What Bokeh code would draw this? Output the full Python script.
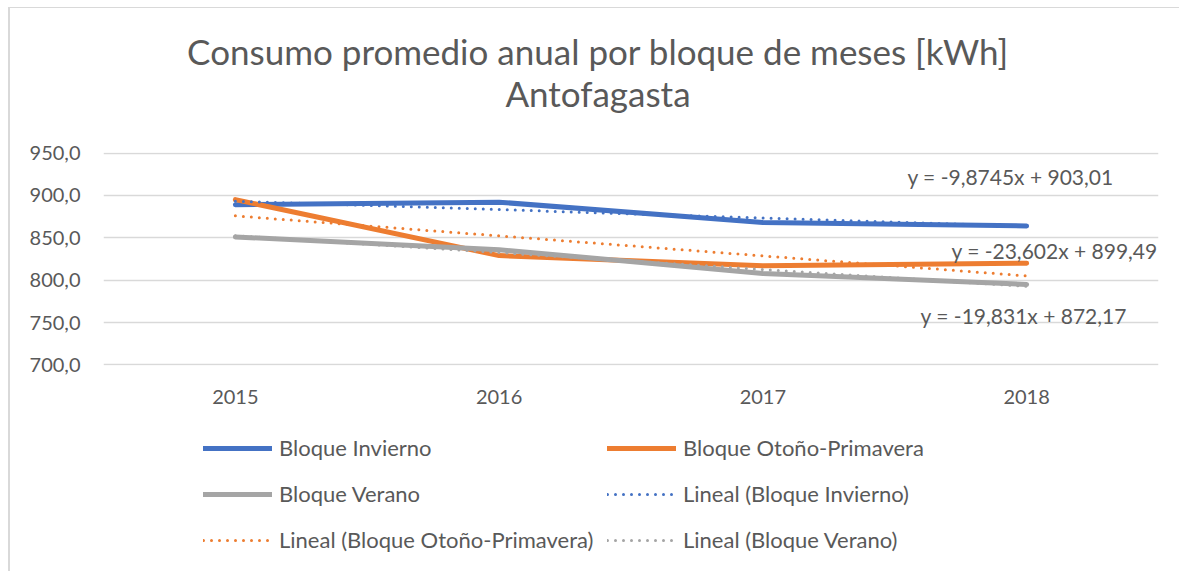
from bokeh.plotting import figure
from bokeh.layouts import column
from bokeh.models import FactorRange, Range1d, FixedTicker, Label, Legend, LegendItem
from bokeh.embed import file_html
from bokeh.resources import INLINE

# ---- data ----
years = ["2015", "2016", "2017", "2018"]
invierno = [889, 892, 868, 864]
otono_primavera = [895, 829, 817, 820]
verano = [851, 836, 808, 795]
trend_slope = [-9.8745, -23.602, -19.831]
trend_intercept = [903.01, 899.49, 872.17]
trend_labels = ["y = -9,8745x + 903,01", "y = -23,602x + 899,49", "y = -19,831x + 872,17"]
series_names = ["Bloque Invierno", "Bloque Otoño-Primavera", "Bloque Verano"]
y_ticks = [700, 750, 800, 850, 900, 950]
y_tick_labels = ["700,0", "750,0", "800,0", "850,0", "900,0", "950,0"]
title_lines = ["Consumo promedio anual por bloque de meses [kWh]", "Antofagasta"]

colors = ["#4472C4", "#ED7D31", "#A5A5A5"]
TXT = "#595959"
FONT = "Lato"
W = 1169
FW = 1055  # frame width shared by all stacked figures


def blank(h):
    f = figure(width=W, height=h, output_backend="svg", toolbar_location=None,
               x_range=Range1d(0, FW), y_range=Range1d(0, h),
               min_border_left=93, min_border_right=21,
               min_border_top=0, min_border_bottom=0)
    f.axis.visible = False
    f.grid.visible = False
    f.outline_line_color = None
    f.background_fill_color = "white"
    f.border_fill_color = "white"
    return f


# ---- title figure ----
tf = blank(130)
for y, t in zip([88, 46], title_lines):
    tf.add_layout(Label(x=494.5, y=y, text=t, text_align="center", text_baseline="middle",
                        text_color=TXT, text_font=FONT, text_font_size="35px"))

# ---- main chart ----
p = figure(width=W, height=282, output_backend="svg", toolbar_location=None,
           x_range=FactorRange(factors=years, range_padding=0),
           y_range=Range1d(699.4, 950.6),
           min_border_left=93, min_border_right=21, min_border_top=14, min_border_bottom=55)
p.outline_line_color = None
p.background_fill_color = "white"
p.border_fill_color = "white"
p.xgrid.grid_line_color = None
p.ygrid.grid_line_color = "#D9D9D9"
p.ygrid.grid_line_width = 1.3
p.yaxis.ticker = FixedTicker(ticks=y_ticks)
p.yaxis.major_label_overrides = {t: l for t, l in zip(y_ticks, y_tick_labels)}
for ax in (p.xaxis, p.yaxis):
    ax.axis_line_color = None
    ax.major_tick_line_color = None
    ax.minor_tick_line_color = None
    ax.major_label_text_color = TXT
    ax.major_label_text_font = FONT
    ax.major_label_text_font_size = "20px"
p.yaxis.major_label_standoff = 17
p.xaxis.major_label_standoff = 18

series = [invierno, otono_primavera, verano]
for vals, c in zip(series, colors):
    p.line(years, vals, line_color=c, line_width=5, line_cap="round", line_join="round")

xs_num = [1, 2, 3, 4]
trend_vals = []
for m, b, c in zip(trend_slope, trend_intercept, colors):
    tv = [m * x + b for x in xs_num]
    trend_vals.append(tv)
    p.line(years, tv, line_color=c, line_width=3, line_dash="0 8", line_cap="round")

eq_pos = [(3.048, 921.8), (3.215, 835.0), (3.098, 758.7)]
for (x, y), t in zip(eq_pos, trend_labels):
    p.add_layout(Label(x=x, y=y, text=t, text_align="left", text_baseline="middle",
                       text_color=TXT, text_font=FONT, text_font_size="21px"))

# ---- legend figure (proxy renderers hold the series, out of this frame's view) ----
lf = blank(151)
solid_r = [lf.line(x=xs_num, y=vals, line_color=c, line_width=5, line_cap="round")
           for vals, c in zip(series, colors)]
trend_r = [lf.line(x=xs_num, y=tv, line_color=c, line_width=3, line_dash="0 8", line_cap="round")
           for tv, c in zip(trend_vals, colors)]
items = [LegendItem(label=n, renderers=[r]) for n, r in zip(series_names, solid_r)]
items += [LegendItem(label="Lineal (" + n + ")", renderers=[r]) for n, r in zip(series_names, trend_r)]
for loc, its in [((100, 18), [items[0], items[2], items[4]]),
                 ((504, 18), [items[1], items[3], items[5]])]:
    lf.add_layout(Legend(items=its, location=loc, orientation="vertical",
                         padding=0, margin=0, spacing=19, glyph_width=69, glyph_height=26,
                         label_height=26, label_standoff=7, label_text_font=FONT,
                         label_text_font_size="22px", label_text_color=TXT,
                         border_line_color=None, background_fill_alpha=0))

layout = column(tf, p, lf, spacing=0)
layout.styles = {"margin-left": "8px", "margin-top": "7px",
                 "border-left": "2px solid #D9D9D9", "border-top": "1px solid #D9D9D9"}

open("out.html", "w").write(file_html(layout, INLINE))
